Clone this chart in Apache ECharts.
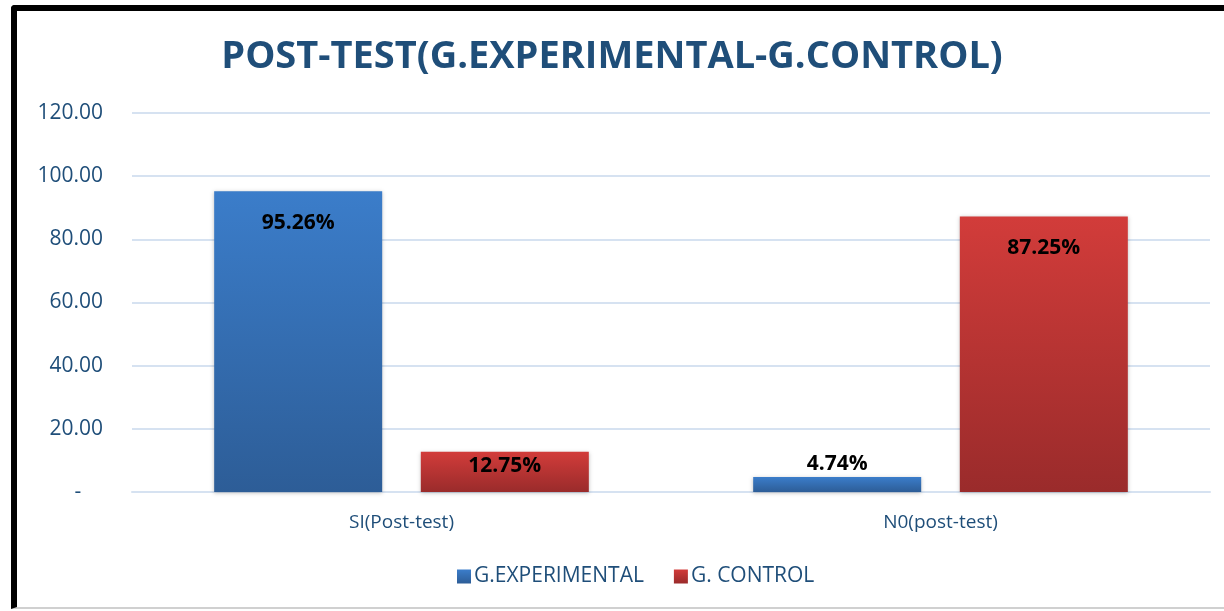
<!DOCTYPE html>
<html>
<head>
<meta charset="utf-8">
<title>POST-TEST</title>
<script src="https://cdn.jsdelivr.net/npm/echarts@6/dist/echarts.min.js"></script>
<style>
  html, body { margin: 0; padding: 0; background: #fff; }
  #frame { position: absolute; left: 11px; top: 5px; width: 1213px; height: 596px;
           border-left: 6px solid #000; border-top: 6px solid #000; border-bottom: 2px solid #d0d0d0;
           border-top-left-radius: 4px; pointer-events: none; z-index: 2; }
  #main { position: absolute; left: 0; top: 0; width: 1224px; height: 611px; }
</style>
</head>
<body>
<div id="main"></div>
<div id="frame"></div>
<script type="text/javascript">
var categories = ['SI(Post-test)', 'N0(post-test)'];
var experimental = [95.26, 4.74];
var control = [12.75, 87.25];
var yTicks = [0, 20, 40, 60, 80, 100, 120];

var fontName = '"Open Sans", "Noto Sans", sans-serif';
var textBlue = '#1f4e79';

function grad(top, bottom) {
  return new echarts.graphic.LinearGradient(0, 0, 0, 1, [
    { offset: 0, color: top }, { offset: 1, color: bottom }
  ]);
}

// small bars: label above the bar, medium bars: close to the top edge
function placeLabel(p) {
  var h = p.rect.height;
  if (h < 20) return { dy: -45 };
  if (h < 60) return { dy: -17 };
}

var barLabel = {
  show: true,
  position: 'insideTop',
  distance: 21,
  color: '#000', fontSize: 21, fontWeight: 'bold', fontFamily: fontName,
  formatter: function (p) { return p.value.toFixed(2) + '%'; }
};

var myChart = echarts.init(document.getElementById('main'));

var option = {
  animation: false,
  title: {
    text: 'POST-TEST(G.EXPERIMENTAL-G.CONTROL)',
    left: 'center',
    top: 33,
    textStyle: { color: textBlue, fontSize: 38, fontWeight: 'bold', fontFamily: fontName }
  },
  legend: {
    bottom: 19,
    left: 452,
    itemWidth: 14,
    itemHeight: 14,
    itemGap: 30,
    icon: 'rect',
    textStyle: { color: textBlue, fontSize: 21, fontFamily: fontName, padding: [0, 0, 0, -2] },
    data: ['G.EXPERIMENTAL', 'G. CONTROL']
  },
  grid: { left: 132, right: 14, top: 113, bottom: 119 },
  xAxis: {
    type: 'category',
    data: categories,
    axisLine: { lineStyle: { color: '#d6e2f1', width: 2 } },
    axisTick: { show: false },
    axisLabel: { color: textBlue, fontSize: 19, fontFamily: fontName, margin: 21 }
  },
  yAxis: {
    type: 'value',
    min: yTicks[0],
    max: yTicks[yTicks.length - 1],
    interval: 20,
    axisLine: { show: false },
    axisTick: { show: false },
    splitLine: { lineStyle: { color: '#d6e2f1', width: 2 } },
    axisLabel: {
      color: textBlue, fontSize: 21, fontFamily: fontName, margin: 29,
      formatter: function (v) { return v === 0 ? '-    ' : v.toFixed(2); }
    }
  },
  series: [
    {
      name: 'G.EXPERIMENTAL',
      type: 'bar',
      data: experimental,
      barWidth: 168,
      barGap: '23%',
      itemStyle: {
        color: grad('#3b7dca', '#2d5d97'),
        shadowColor: 'rgba(0,0,0,0.25)', shadowBlur: 4, shadowOffsetY: 1
      },
      label: barLabel,
      labelLayout: placeLabel
    },
    {
      name: 'G. CONTROL',
      type: 'bar',
      data: control,
      barWidth: 168,
      itemStyle: {
        color: grad('#d23c3a', '#9a2b2b'),
        shadowColor: 'rgba(0,0,0,0.25)', shadowBlur: 4, shadowOffsetY: 1
      },
      label: barLabel,
      labelLayout: placeLabel
    }
  ]
};

myChart.setOption(option);
</script>
</body>
</html>
